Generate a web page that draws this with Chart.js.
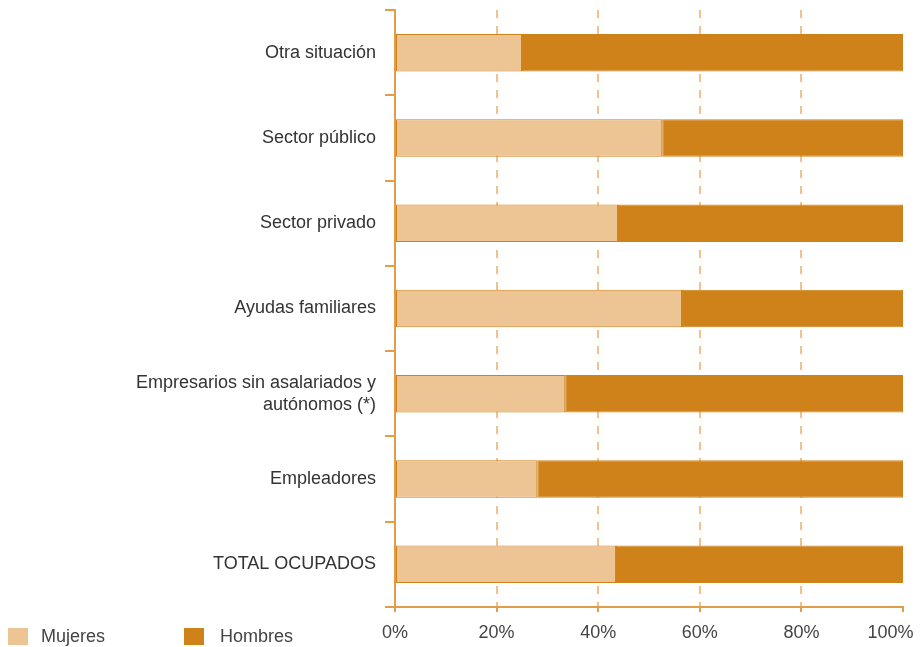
<!DOCTYPE html>
<html>
<head>
<meta charset="utf-8">
<script src="https://cdn.jsdelivr.net/npm/chart.js@4"></script>
<style>
  html, body { margin: 0; padding: 0; background: #fff; }
  #wrap { position: relative; width: 922px; height: 647px; }
  .legend { position: absolute; top: 628px; font-family: "Liberation Sans", Arial, sans-serif; font-size: 18px; color: #444; }
  .legend span.box { position: absolute; left: 0; top: 0; width: 20px; height: 17px; }
  .legend span.txt { position: absolute; top: -2px; white-space: nowrap; }
</style>
</head>
<body>
<div id="wrap">
  <canvas id="chart" width="922" height="647"></canvas>
  <div class="legend" style="left:8px"><span class="box" style="background:#EDC594"></span><span class="txt" style="left:33px">Mujeres</span></div>
  <div class="legend" style="left:184px"><span class="box" style="background:#D0821A"></span><span class="txt" style="left:36px">Hombres</span></div>
</div>
<script>
// Categories, top to bottom
const categories = [
  "Otra situación",
  "Sector público",
  "Sector privado",
  "Ayudas familiares",
  ["Empresarios sin asalariados y", "autónomos (*)"],
  "Empleadores",
  "TOTAL OCUPADOS"
];

// Share of women (%) per category
const mujeres = [25.0, 52.6, 43.9, 56.5, 33.5, 28.0, 43.5];
// Share of men (%)
const hombres = [75.0, 47.4, 56.1, 43.5, 66.5, 72.0, 56.5];

const xTicks = [0, 20, 40, 60, 80, 100];

// Colors
const lightColor = '#EDC594';
const darkColor = '#D0821A';
const axisColor = '#E39C48';
const gridColor = '#F3C28C';
const fontFamily = '"Liberation Sans", Arial, sans-serif';

const ctx = document.getElementById('chart').getContext('2d');

new Chart(ctx, {
  type: 'bar',
  data: {
    labels: categories,
    datasets: [
      {
        label: 'Mujeres',
        data: mujeres,
        backgroundColor: lightColor,
        borderColor: darkColor,
        borderWidth: 1,
        borderSkipped: false,
        barPercentage: 0.44,
        categoryPercentage: 1
      },
      {
        label: 'Hombres',
        data: hombres,
        backgroundColor: darkColor,
        borderColor: darkColor,
        borderWidth: 1,
        borderSkipped: false,
        barPercentage: 0.44,
        categoryPercentage: 1
      }
    ]
  },
  options: {
    indexAxis: 'y',
    responsive: false,
    animation: false,
    layout: {
      padding: { top: 10, right: 19, bottom: 0, left: 0 }
    },
    plugins: {
      legend: { display: false },
      tooltip: { enabled: false }
    },
    scales: {
      x: {
        stacked: true,
        min: 0,
        max: 100,
        afterBuildTicks: function(scale) {
          scale.ticks = xTicks.map(v => ({ value: v }));
        },
        afterFit: function(scale) {
          scale.height = 40;
          scale.paddingLeft = 0;
          scale.paddingRight = 0;
        },
        // in v4 border.dash also styles the grid lines
        border: { display: true, color: axisColor, width: 2, dash: [8, 8] },
        grid: {
          display: true,
          drawOnChartArea: true,
          color: function(c) {
            const v = c.tick ? c.tick.value : null;
            return (v === 0 || v === 100) ? 'rgba(0,0,0,0)' : gridColor;
          },
          lineWidth: 2,
          tickColor: axisColor,
          tickLength: 5,
          tickWidth: 2,
          tickBorderDash: []
        },
        ticks: {
          color: '#444',
          padding: 10,
          font: { family: fontFamily, size: 18 },
          callback: function(value) {
            // last label sits a bit to the left so it stays inside the frame
            return value === 100 ? value + '%     ' : value + '%';
          }
        }
      },
      y: {
        stacked: true,
        afterFit: function(scale) {
          scale.width = 395;
          scale.paddingTop = 0;
          scale.paddingBottom = 0;
        },
        border: { display: true, color: axisColor, width: 2 },
        grid: {
          offset: true,
          drawOnChartArea: false,
          color: axisColor,
          lineWidth: 2,
          tickLength: 10
        },
        ticks: {
          color: '#333',
          padding: 9,
          font: { family: fontFamily, size: 18 }
        }
      }
    }
  }
});
</script>
</body>
</html>
